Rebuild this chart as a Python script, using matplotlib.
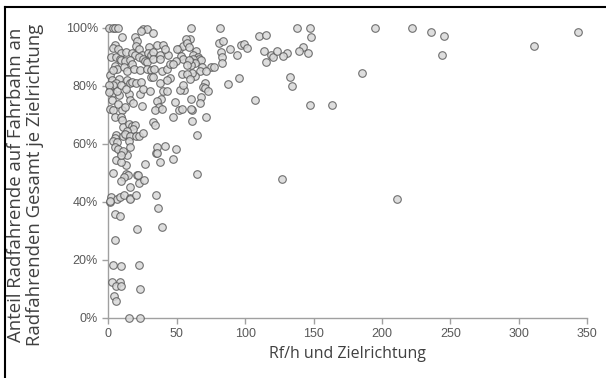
import matplotlib
matplotlib.use("Agg")
import matplotlib.pyplot as plt
from matplotlib.lines import Line2D
from matplotlib.ticker import FuncFormatter

# Rf/h und Zielrichtung
x_vals = [
    0.6, 3, 5, 7, 25, 28.4, 60.5, 81.8, 138, 147.4, 195, 222,
    236, 245.4, 311, 343.5,
    148, 142, 139.4, 146, 130.6, 127.6, 132.8, 134.2, 147.4, 163.5, 185.4, 243.9, 211, 126.5,
    64.5, 37.7, 47, 34.7, 26.7, 13, 5.3, 8.9, 13.8, 9.1, 3.3, 13, 20.6, 21.8, 14.5, 11.6, 8.9, 22, 26.2, 15.9,
    1.6, 1.3, 6.4, 8.4, 11.3, 15.7, 15.9, 19.9, 34.7, 36, 39.1, 20.6, 4.8, 8.6, 4.8, 3.5, 8.9, 22.1,
    2.8, 8.2, 5.7, 9.1, 23.3, 4, 5.5, 15, 23,
    60.9, 71.3, 61.3, 64.5,
    109.9, 115.4, 80.8, 83.5, 96.9, 99.1, 101.5, 88.7, 82.1, 93.8, 83.2, 83, 114, 119.1, 120.6, 123.5,
    115.4, 107.4, 87.2, 95.7, 59.6, 63.8, 61.6, 65.3, 66.4, 67.7, 62, 60.6, 63.3, 60.6, 68.4, 74.8, 77,
    66.9, 71.3, 63, 61, 70.8, 69.4, 70.3, 72.8, 67.4, 66.9, 60.6,
    9.9, 19.6, 24, 32.8, 20.6, 5, 3.5, 7.2, 9.4, 20.1, 22.5, 29.4, 35.3, 40.1, 51.4, 54.7, 56.7, 57.2, 58.7,
    12.8, 17.2, 19.2, 24.5, 28.9, 31.3, 32.8, 37.7, 43.5, 41.6, 2, 5.5, 8.4, 9.4, 11.9, 15.7, 22.5, 25,
    26.9, 27.9, 32.8, 37.7, 49.9, 53.3, 54.7, 58.7, 49.4, 57.6, 4.5, 6, 1.1, 3.5, 11.3, 13.8, 17.2, 18.7,
    23, 27.9, 30.9, 30.9, 33.3, 39.1, 43, 45, 47, 53.8, 57.6, 59.6, 2.6, 7.5, 5.5, 3.5, 1.1, 3.1, 7.9, 6,
    9.4, 13.3, 15.7, 17.2, 20.1, 23.5, 15.2, 12.8, 23, 25.5, 30.4, 37.7, 40.1, 42.6, 38.2, 35.3, 36.7,
    34.2, 39.1, 48.9, 51.8, 53.8, 47, 24.5, 2.6, 1.1, 3.5, 6.9, 9.9, 12.3, 15.7, 5, 8.9, 18.1,
    60.1, 55.2, 52.3, 54.8, 45, 42.6, 32.8,
    9.9, 10.8, 15.2, 17.2, 19.6, 18.1, 13.3, 12.8, 5.5, 4.5, 3.5, 6.4, 10.4, 11.9, 15.7, 20.1, 22.5, 25.5,
    14.8, 4.5, 6.9, 10.8, 15.7, 8.9, 32.8, 34.2, 35.3, 35.3, 41.6, 49.4,
    0.5, 0.5, 0.8,
]

# Anteil Radfahrende auf Fahrbahn (%)
y_vals = [
    100, 100, 100, 100, 99.8, 99.8, 100, 100, 100, 100, 100, 100,
    98.6, 97.2, 93.8, 98.6,
    97, 93.4, 92, 91.4, 91.4, 90.3, 83.1, 80, 73.4, 73.4, 84.5, 90.7, 41, 48,
    49.7, 53.7, 54.8, 57, 53, 52.6, 54.5, 53.8, 56.2, 57.3, 50, 49.6, 49.2, 49.2, 49.2, 48.7, 47.3, 46.5, 47.5, 45,
    41.8, 40.1, 41, 41.8, 42.3, 41.5, 41, 42.5, 42.5, 38, 31.5, 30.6, 35.8, 35.3, 26.7, 18.2, 17.9, 18.2,
    12.4, 12.4, 11.1, 11.1, 9.9, 7.6, 5.9, 0, 0,
    71.7, 69.4, 67.8, 63,
    97.2, 97.7, 94.9, 95.4, 94, 94.5, 93, 92.9, 91.7, 90.8, 89.9, 87.8, 92, 90.8, 89.9, 92,
    88.3, 75.3, 80.8, 82.9, 96.3, 92.2, 90.8, 90.1, 89.3, 89, 89.2, 88.4, 88, 87.1, 86.7, 86.4, 86.4,
    85.3, 85, 83.4, 84.6, 81.1, 79.8, 79.2, 78.2, 76.1, 74, 72.1,
    97, 97, 98.9, 98.4, 95.6, 94.2, 93.1, 92.6, 91.3, 93.8, 92.6, 93.3, 94.2, 94.2, 92.9, 93.8, 96.1, 94.7, 93.6,
    91.7, 91.3, 90.8, 90.8, 91.3, 90.8, 91.7, 90.8, 90.8, 92.9, 90.1, 89.9, 89.4, 89, 88.7, 89, 90.1, 89.2,
    88.5, 88.1, 89.4, 89.2, 92.9, 90.3, 89.2, 89, 88.5, 87.4, 86.9, 86, 83.9, 85.5, 86.7, 85.3, 87.6, 86,
    85.5, 86, 85.5, 83, 86, 85, 85.7, 87.6, 87.6, 84.1, 84.1, 82.5, 82.1, 82.5, 81.1, 80.2, 78.6, 77.5, 77, 78.2,
    80.2, 82.1, 81, 81.4, 81.1, 81.4, 77.2, 78.9, 77.2, 79.1, 78.2, 81, 78.4, 78.4, 75.6, 74.7, 72.6,
    71.7, 72.2, 74.5, 71.7, 71.9, 69.2, 73.1, 75.2, 72, 71.7, 73.8, 71.7, 72.6, 75.2, 69.2, 69.2, 74.2,
    75.6, 78.6, 78.6, 80.5, 82.8, 82.1, 83,
    68.3, 66, 66.9, 66.2, 66.7, 65.1, 64.4, 63, 63, 62.1, 61.1, 60.7, 62.8, 63.4, 62.8, 62.8, 62.8, 63.9,
    61, 59.1, 58.2, 57.7, 59.1, 56.3, 67.6, 66.7, 59.1, 57, 59.3, 58.4,
    80.5, 78, 40.4,
]

x_ticks = [0, 50, 100, 150, 200, 250, 300, 350]
y_ticks = [0, 20, 40, 60, 80, 100]
x_label = "Rf/h und Zielrichtung"
y_label = "Anteil Radfahrende auf Fahrbahn an\nRadfahrenden Gesamt je Zielrichtung"

fig = plt.figure(figsize=(6.06, 3.78), dpi=100)
ax = fig.add_axes([0.179, 0.159, 0.790, 0.767])

ax.scatter(x_vals, y_vals, s=30, facecolor="#d9d9d9", edgecolor="#5a5a5a",
           linewidths=0.8, alpha=0.85, clip_on=False, zorder=3)

ax.set_xlim(0, 350)
ax.set_ylim(0, 100)
ax.set_xticks(x_ticks)
ax.set_yticks(y_ticks)
ax.yaxis.set_major_formatter(FuncFormatter(lambda v, p: f"{int(v)}%"))

for s in ["top", "right"]:
    ax.spines[s].set_visible(False)
for s in ["left", "bottom"]:
    ax.spines[s].set_color("#a0a0a0")
    ax.spines[s].set_linewidth(1.0)

ax.tick_params(axis="both", direction="out", length=4, width=1.0, color="#a0a0a0",
               labelcolor="#595959", labelsize=9)
for lab in ax.get_xticklabels() + ax.get_yticklabels():
    lab.set_family("Liberation Sans")

ax.set_xlabel(x_label, fontsize=11.5, color="#404040", family="Open Sans", labelpad=4)
ax.set_ylabel(y_label, fontsize=13.3, color="#404040", family="Open Sans",
              linespacing=1.1)
ax.yaxis.set_label_coords(-0.134, 0.46)

# outer frame lines
fig.add_artist(Line2D([5 / 606, 1.0], [1 - 7 / 378, 1 - 7 / 378], transform=fig.transFigure,
                      color="black", linewidth=1.5))
fig.add_artist(Line2D([5 / 606, 5 / 606], [0, 1 - 7 / 378], transform=fig.transFigure,
                      color="black", linewidth=1.5))

fig.savefig("out.png", dpi=100)
